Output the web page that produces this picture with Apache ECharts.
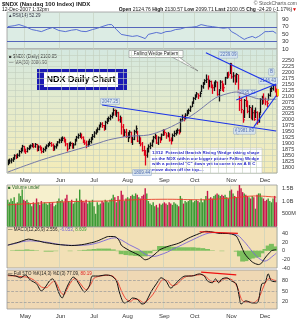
<!DOCTYPE html>
<html><head><meta charset="utf-8">
<script src="https://cdn.jsdelivr.net/npm/echarts@6/dist/echarts.min.js"></script>
<style>html,body{margin:0;padding:0;background:#fff}#c{width:299px;height:320px}</style>
</head><body><div id="c"></div>
<script>
// ---- DATA ----
const holidays = ['2007-05-28','2007-07-04','2007-09-03','2007-11-22'];
const monthNames = ['Jan','Feb','Mar','Apr','May','Jun','Jul','Aug','Sep','Oct','Nov','Dec'];
const closes = [
1822,1826,1830,1834,1848,1845,1850,1866,1872,1888,1868,
1866,1878,1884,1890,1895,1888,1896,1872,1885,1882,1866,1874,1880,1890,1896,1900,1893,1876,1886,1894,1906,1914,
1918,1922,1916,1898,1876,1896,1900,1884,1894,1914,1926,1934,1938,1926,1910,1902,1894,1900,1908,1920,1930,
1944,1952,1960,1972,1982,1976,1962,1990,2000,2006,2014,2022,2040,2028,2030,2000,2002,1970,1940,1948,1930,
1936,1948,1906,1918,1950,1962,1910,1918,1898,1870,1860,1850,1872,1886,1892,1908,1926,1932,1902,1924,1914,1936,1950,
1946,1932,1940,1914,1910,1934,1942,1950,1956,1946,2000,2010,2004,2020,2030,2040,2054,2072,2091,
2100,2110,2102,2112,2140,2152,2166,2172,2142,2162,2148,2136,2150,2160,2108,2124,2160,2142,2136,2178,2196,2190,2239,
2182,2186,2166,2192,2118,2082,2044,2000,2082,2062,2036,2052,2012,2030,2002,2032,1990,2024,2086,2092,2086,
2076,2070,2104,2130,2132,2148,2124,2100.05];
const highs = [
1830,1834,1836,1840,1852,1852,1856,1870,1880,1892,1888,
1876,1882,1890,1894,1900,1898,1900,1896,1890,1890,1884,1880,1886,1894,1900,1906,1904,1898,1890,1898,1908,1918,
1924,1928,1926,1918,1900,1902,1906,1902,1900,1918,1930,1940,1944,1940,1928,1914,1910,1910,1918,1926,1938,
1950,1958,1966,1978,1988,1988,1976,1994,2006,2012,2020,2030,2047,2042,2040,2032,2016,2010,1980,1958,1960,
1946,1954,1948,1926,1956,1974,1952,1934,1924,1904,1888,1870,1880,1894,1902,1914,1930,1940,1934,1928,1926,1940,1958,
1958,1944,1946,1940,1924,1940,1952,1956,1962,1958,2004,2020,2016,2026,2040,2046,2058,2076,2094,
2106,2116,2110,2118,2146,2158,2170,2190,2186,2168,2164,2146,2160,2166,2160,2128,2166,2164,2152,2180,2200,2202,2239,
2236,2200,2190,2196,2190,2120,2090,2040,2086,2110,2080,2060,2050,2060,2040,2050,2034,2030,2090,2100,2110,
2092,2080,2110,2134,2140,2150,2150,2130.57];
const lows = [
1810,1816,1818,1824,1834,1836,1840,1846,1860,1868,1864,
1858,1864,1874,1880,1886,1882,1884,1868,1870,1872,1860,1862,1868,1878,1886,1892,1888,1870,1872,1880,1890,1902,
1904,1912,1906,1890,1868,1878,1890,1880,1880,1894,1910,1922,1926,1920,1904,1896,1882,1888,1896,1902,1916,
1926,1940,1948,1958,1970,1968,1956,1960,1984,1994,2000,2008,2020,2020,2014,1996,1990,1940,1930,1932,1926,
1908,1924,1904,1896,1916,1944,1908,1900,1890,1868,1850,1809,1842,1864,1878,1888,1906,1920,1900,1896,1904,1916,1934,
1936,1922,1928,1910,1898,1912,1930,1936,1944,1940,1950,1996,1996,2004,2018,2026,2036,2056,2070,
2086,2096,2090,2098,2120,2134,2150,2158,2130,2140,2136,2112,2124,2140,2104,2080,2130,2124,2120,2150,2176,2180,2196,
2176,2160,2150,2160,2116,2040,2030,1990,2010,2056,2030,2010,2004,2000,1998,2010,1982,1990,2030,2066,2070,
2064,2056,2084,2100,2120,2126,2118,2099.71];
const volumes = [
1.05,0.95,1.10,1.00,1.15,0.90,0.95,1.30,1.20,1.45,1.05,
1.00,1.05,0.95,0.90,0.80,0.95,0.90,1.10,0.95,0.85,1.00,0.90,0.95,0.90,0.85,0.95,0.90,0.95,0.80,0.85,1.00,1.10,
1.00,1.05,0.95,1.10,1.25,1.00,0.95,1.05,0.90,0.95,1.10,1.00,1.45,1.05,1.00,0.95,1.05,0.90,1.00,0.95,1.05,
0.80,0.50,0.95,0.85,0.90,1.00,0.95,1.05,1.00,0.95,1.05,1.10,1.25,1.15,0.95,1.20,1.05,1.40,1.25,1.00,1.10,
1.15,1.10,1.20,1.25,1.20,1.30,1.25,1.15,1.10,1.20,1.25,1.50,1.30,1.00,0.90,0.85,0.95,0.80,0.85,0.75,0.90,0.85,0.90,
0.95,0.90,0.85,0.95,0.90,0.85,0.95,0.90,0.85,0.80,1.20,1.10,0.90,1.00,0.95,1.00,1.05,1.05,0.95,
1.00,1.05,1.00,0.95,1.10,0.95,1.05,1.20,1.40,1.10,1.15,1.10,1.20,1.25,1.30,1.25,1.20,1.25,1.20,1.25,1.15,1.10,1.40,
1.45,1.30,1.20,1.15,1.40,1.70,1.50,1.35,1.30,1.25,1.20,1.15,1.10,1.20,1.15,0.70,1.25,1.30,1.30,1.15,1.10,
1.00,1.05,1.10,1.00,0.95,1.10,1.20,0.95];
// sparse indicator readings: [tradingDayIndex, value]
const ma50 = [[0,1779],[21,1830],[40,1868],[57,1902],[63,1915],[75,1930],[88,1936],[98,1958],[107,1987],[115,2018],[120,2042],[130,2093],[137,2110],[143,2118],[151,2101],[157,2089],[168,2087]];
const volMA = [[0,0.85],[20,0.92],[40,0.98],[60,1.0],[80,1.05],[100,1.07],[120,1.05],[140,1.12],[155,1.2],[168,1.15]];
const rsi = [[0,70.5],[4,73],[7,76],[11,70.5],[15,62.6],[18,60],[21,57],[25,64],[28,68],[32,60],[36,57],[40,61],[43,62.6],[46,58],[49,57],[53,62.6],[56,66],[59,70.5],[63,76],[65,76],[68,62.6],[71,49.5],[74,47],[78,44],[81,46],[84,41.6],[86,38],[88,49.5],[93,54.7],[96,52],[99,57],[102,58],[105,62.6],[108,64],[111,68],[115,69],[118,70.5],[121,76],[125,72],[128,70.5],[132,68],[135,66],[138,68],[140,57],[143,50],[145,44],[148,36],[150,40],[153,44],[155,40],[157,44],[159,50],[161,57],[163,57],[166,58],[168,52.29]];
const macd = [[0,13],[4,17],[7,20],[10,24],[13,27],[17,24],[20,22],[23,19],[26,17.5],[30,15],[36,13],[40,12],[44,13],[48,15],[51,17.5],[54,20],[57,24],[60,29],[63,33],[66,33],[68,31],[70,22],[71,13],[74,5],[78,-3],[82,-10],[84,-16],[86,-21],[88,-19],[90,-14],[93,-5],[95,2],[98,7],[101,11],[104,14],[107,17.5],[110,23],[113,29],[116,34],[120,40],[124,45],[127,44],[130,42],[133,40],[136,40],[140,39],[143,34],[144,28],[145,20],[146,12],[148,-5],[150,-15],[153,-26],[155,-30],[157,-32],[159,-28],[160,-22],[162,-12],[164,-4],[165,0],[167,2],[168,2.556]];
const macdSignal = [[0,13],[5,17],[9,21],[14,23],[18,22],[24,20],[30,16],[36,13],[44,12.5],[51,14],[57,19],[63,27],[67,30],[71,25],[76,14],[82,3],[86,-8],[88,-11],[92,-13],[95,-10],[100,-3],[104,5],[107,10],[112,19],[116,26],[120,33],[124,39],[128,42],[133,41],[137,40],[140,39],[143,37],[145,33],[147,25],[149,17],[152,3],[155,-10],[157,-17],[159,-22],[161,-24],[163,-21],[165,-15],[167,-9],[168,-6.053]];
const macdHist = [[0,0],[3,1],[6,2],[9,2],[12,3],[15,2],[18,1],[21,0],[24,-2],[27,-2],[30,-1],[33,0],[36,0],[39,-1],[42,0],[45,1],[48,2],[51,3],[54,4],[57,5],[60,5],[63,5],[66,3],[69,-1],[71,-8],[74,-10],[77,-11],[80,-12],[83,-13],[86,-13],[89,-6],[92,2],[95,11],[98,11],[101,10],[104,9],[107,8],[110,8],[113,8],[116,8],[119,7],[122,6],[125,4],[128,1],[131,0],[134,-1],[137,0],[140,0],[143,-2],[145,-13],[147,-25],[149,-24],[151,-20],[153,-18],[155,-16],[157,-15],[159,-6],[161,4],[163,12],[165,16],[167,10],[168,8.6]];
const stoK = [[0,96],[5,93],[8,88],[11,96],[14,82],[18,71],[21,51],[24,65],[26,79],[28,85],[30,71],[32,45],[34,31],[36,51],[38,71],[41,90],[43,82],[46,59],[48,48],[51,65],[53,93],[57,93],[61,96],[65,93],[68,79],[70,45],[73,17],[76,23],[78,31],[81,28],[84,14],[86,17],[90,51],[93,71],[96,88],[99,79],[102,59],[105,71],[108,85],[111,93],[115,93],[120,99],[123,93],[125,79],[128,74],[130,85],[132,74],[134,85],[137,88],[140,79],[143,71],[145,31],[146,14],[149,23],[153,17],[156,17],[159,71],[161,74],[163,99],[165,79],[168,77.09]];
const stoD = [[0,94],[5,93],[9,91],[12,90],[15,85],[18,76],[21,62],[24,60],[27,72],[29,80],[31,68],[33,48],[35,40],[37,55],[39,72],[42,86],[44,80],[47,62],[49,54],[52,70],[54,87],[58,93],[62,95],[66,92],[69,74],[71,52],[74,28],[77,22],[79,28],[82,26],[85,18],[87,22],[91,42],[94,65],[97,82],[100,80],[103,66],[106,70],[109,84],[112,92],[116,94],[121,97],[124,92],[126,82],[129,77],[131,80],[133,78],[135,84],[138,86],[141,80],[144,58],[146,30],[148,20],[151,20],[154,18],[157,30],[160,62],[162,80],[164,86],[166,82],[168,80.19]];
// trend lines [idx, price]
const fallingLower = [[59,2063],[168,1953]];
const fallingUpper = [[124,2284],[168,2143]];
const risingUpper = [[143,2084],[168,2152]];
const risingLower = [[154,1970],[168,2102]];
const annText  = ['2047.25','1809.44','2239.09','A','1981.89','2035.32','2146.43','B'];
const annIdx   = [64,84,138,143,149,150,163,165];
const annPrice = [2078,1777,2275,1953,1953,2114,2165,2203];

// ---- BUILD ----
function buildDates(){
  const out=[]; let t=Date.UTC(2007,3,16); const end=Date.UTC(2007,11,12);
  while(t<=end){const d=new Date(t);const wd=d.getUTCDay();const s=d.toISOString().slice(0,10);
    if(wd>0&&wd<6&&holidays.indexOf(s)<0) out.push(s); t+=86400000;}
  return out;
}
const dates = buildDates();
const isMonthStart = i => i>0 && dates[i].slice(5,7)!==dates[i-1].slice(5,7);
const isMonday = i => new Date(dates[i]+'T00:00:00Z').getUTCDay()===1;
const up = closes.map((c,i)=> i===0 ? true : c>=closes[i-1]);
const FONT = 'Liberation Sans';
const L = 7, R = 22;
const grids = [
  {left:L,right:R,top:12,height:37,backgroundColor:'#dcece4'},
  {left:L,right:R,top:49,height:124,backgroundColor:new echarts.graphic.LinearGradient(0,0,0,1,[{offset:0,color:'#d4e8e0'},{offset:0.5,color:'#e6ebca'},{offset:1,color:'#f4ecb8'}])},
  {left:L,right:R,top:185,height:41.5,backgroundColor:'#f6f0cd'},
  {left:L,right:R,top:227,height:41,backgroundColor:'#f2e0b6'},
  {left:L,right:R,top:270,height:39,backgroundColor:'#efd8b4'}
].map(g=>Object.assign({show:true,borderColor:'#9a9a9a',borderWidth:0.8},g));

function xAx(gi, showLabels, vSplit){
  return {type:'category',gridIndex:gi,data:dates,boundaryGap:true,
    axisLine:{show:false},axisTick:{show:false},
    axisLabel:{show:showLabels,interval:(i)=>isMonthStart(i),formatter:v=>monthNames[+v.slice(5,7)-1],
      fontSize:6,color:'#333',margin:4,fontFamily:FONT},
    splitLine:{show:true,interval:vSplit,lineStyle:{color:'#c3cfbd',width:0.6}}};
}
function yAx(gi,opt){
  return Object.assign({type:'value',gridIndex:gi,position:'right',scale:false,
    axisLine:{show:false},axisTick:{show:false},
    axisLabel:{fontSize:6,color:'#333',margin:5,fontFamily:FONT},
    splitLine:{show:false}},opt);
}
const xAxes=[xAx(0,false,(i)=>isMonthStart(i)), xAx(1,true,(i)=>isMonday(i)), xAx(2,false,(i)=>isMonthStart(i)), xAx(3,false,(i)=>isMonthStart(i)), xAx(4,true,(i)=>isMonthStart(i))];
const yAxes=[
  yAx(0,{min:10,max:110,interval:20,axisLabel:{fontSize:6,color:'#333',margin:5,fontFamily:FONT,formatter:v=>(v>=10&&v<=90)?String(v):''}}),
  yAx(1,{min:1775,max:2300,interval:25,axisLabel:{fontSize:5.5,color:'#333',margin:5,fontFamily:FONT,formatter:v=>(v>=1800&&v<=2250)?String(v):''},
    splitLine:{show:true,lineStyle:{color:'#c3cfbd',width:0.6}}}),
  yAx(2,{min:0,max:1.63,interval:0.5,axisLabel:{fontSize:5.5,color:'#333',margin:5,fontFamily:FONT,formatter:v=>v===0.5?'500M':v===1?'1.0B':v===1.5?'1.5B':''}}),
  yAx(3,{min:-40,max:55,interval:20,axisLabel:{fontSize:5.5,color:'#333',margin:5,fontFamily:FONT,formatter:v=>(v<=40)?String(v):''}}),
  yAx(4,{min:0,max:110,interval:10,axisLabel:{fontSize:5.5,color:'#333',margin:5,fontFamily:FONT,formatter:v=>(v===20||v===50||v===80)?String(v):''}})
];

const ohlcData = closes.map((c,i)=>[i,c,lows[i],highs[i],up[i]?1:0]);
const lastIdx = closes.length-1;
function renderBar(params, api){
  const i=api.value(0);
  const lo=api.coord([i,api.value(2)]), hi=api.coord([i,api.value(3)]), cl=api.coord([i,api.value(1)]);
  const x=Math.round(lo[0])+0.5;
  let color = api.value(4)? '#111':'#e2001a';
  const ch=[{type:'line',shape:{x1:x,y1:lo[1]+0.5,x2:x,y2:hi[1]-0.5},style:{stroke:color,lineWidth:1.3}},
            {type:'line',shape:{x1:x,y1:cl[1],x2:x+1.4,y2:cl[1]},style:{stroke:color,lineWidth:1}}];
  if(i===lastIdx){ch.unshift({type:'rect',shape:{x:x+0.5,y:hi[1],width:2,height:lo[1]-hi[1]},style:{fill:'#f0e020'}});}
  return {type:'group',children:ch};
}
const lineStyleBlue = {color:'#1c34e8',width:1.1,type:'solid'};
function tl(a){return [{coord:a[0]},{coord:a[1]}];}

const series = [
  {type:'line',xAxisIndex:0,yAxisIndex:0,data:rsi,showSymbol:false,lineStyle:{color:'#4a62d0',width:0.9},silent:true,
   markLine:{silent:true,symbol:'none',label:{show:false},lineStyle:{color:'#5566bb',width:1,type:'solid'},data:[{yAxis:70},{yAxis:30}]}},
  {type:'custom',xAxisIndex:1,yAxisIndex:1,data:ohlcData,renderItem:renderBar,encode:{x:0,y:[1,2,3]},silent:true},
  {type:'line',xAxisIndex:1,yAxisIndex:1,data:ma50,showSymbol:false,smooth:0.3,lineStyle:{color:'#7478a8',width:1},silent:true,
   markLine:{silent:true,symbol:'none',label:{show:false},lineStyle:lineStyleBlue,
     data:[tl(fallingLower),tl(fallingUpper),tl(risingUpper),tl(risingLower)]}},
  {type:'scatter',xAxisIndex:1,yAxisIndex:1,symbolSize:0.1,silent:true,
   data:annText.map((t,k)=>({value:[annIdx[k],annPrice[k]],name:t})),
   label:{show:true,position:'inside',formatter:p=>p.name,fontSize:4.5,color:'#3050a8',fontFamily:FONT,
     backgroundColor:'#d8e6f4',borderColor:'#8aa0c8',borderWidth:0.5,padding:[1,1,0,1]}},
  {type:'bar',xAxisIndex:2,yAxisIndex:2,data:volumes.map((v,i)=>({value:v,itemStyle:{color:up[i]?'#3c9a34':'#c8154a'}})),barWidth:1.4,silent:true},
  {type:'line',xAxisIndex:2,yAxisIndex:2,data:volMA,showSymbol:false,smooth:0.4,lineStyle:{color:'#e8402a',width:0.9},silent:true},
  {type:'bar',xAxisIndex:3,yAxisIndex:3,data:macdHist,barWidth:5,itemStyle:{color:'#7cbf5e'},silent:true},
  {type:'line',xAxisIndex:3,yAxisIndex:3,data:macdSignal,showSymbol:false,smooth:0.3,lineStyle:{color:'#7a66d8',width:0.9},silent:true},
  {type:'line',xAxisIndex:3,yAxisIndex:3,data:macd,showSymbol:false,smooth:0.3,lineStyle:{color:'#111',width:1},silent:true,
   markLine:{silent:true,symbol:'none',label:{show:false},lineStyle:{color:'#ee1111',width:1.2,type:'solid'},data:[[{coord:[120,44]},{coord:[144,40]}]]}},
  {type:'line',xAxisIndex:4,yAxisIndex:4,data:stoD,showSymbol:false,smooth:0.3,lineStyle:{color:'#f04a3a',width:1},silent:true,
   markLine:{silent:true,symbol:'none',label:{show:false},lineStyle:{color:'#999',width:0.7,type:'dashed'},data:[{yAxis:80},{yAxis:50},{yAxis:20}]}},
  {type:'line',xAxisIndex:4,yAxisIndex:4,data:stoK,showSymbol:false,smooth:0.3,lineStyle:{color:'#111',width:1},silent:true,
   markLine:{silent:true,symbol:'none',label:{show:false},lineStyle:{color:'#ee1111',width:1.2,type:'solid'},data:[[{coord:[121,104]},{coord:[143,96]}]]}}
];

const T = (x,y,text,extra)=>({type:'text',x:x,y:y,silent:true,style:Object.assign({text:text,fontSize:5,fill:'#222',fontFamily:FONT},extra||{})});
const graphic = [
  T(2,1,'$NDX (Nasdaq 100 Index) INDX',{fontSize:6,fontWeight:'bold'}),
  T(297,1,'© StockCharts.com',{fontSize:5,align:'right',fill:'#555'}),
  T(2,7.5,'12-Dec-2007 1:32pm',{fontSize:5}),
  {type:'text',x:297,y:7.5,silent:true,style:{align:'right',fontFamily:FONT,fontSize:5,fill:'#222',
    text:'{b|Open} 2124.76 {b|High} 2130.57 {b|Low} 2099.71 {b|Last} 2100.05 {b|Chg} -24.20 (-1.17%){r|▼}',
    rich:{b:{fontWeight:'bold',fontSize:5,fontFamily:FONT},r:{fill:'#d00',fontSize:5}}}},
  T(8,13.5,'▲RSI(14) 52.29',{fontSize:4.5,fill:'#334'}),
  T(9,54.5,'■ $NDX (Daily) 2100.05',{fontSize:4.5,fill:'#333'}),
  T(9,60.5,'— MA(50) 2086.90',{fontSize:4.5,fill:'#555'}),
  {type:'rect',shape:{x:37,y:69,width:90,height:21},style:{fill:'#1a1ab4'},silent:true},
  {type:'rect',shape:{x:44,y:72,width:74,height:15},style:{fill:'#fff'},silent:true},
  T(81,79.5,'NDX Daily Chart',{fontSize:9,fontWeight:'bold',align:'center',verticalAlign:'middle',fill:'#000'}),
  {type:'polygon',shape:{points:[[172,57],[179,57],[198,71]]},style:{fill:'#fff',stroke:'#555',lineWidth:0.5},silent:true},
  {type:'rect',shape:{x:129,y:50.5,width:54,height:7},style:{fill:'#fff',stroke:'#777',lineWidth:0.5},silent:true},
  T(156,54,'Falling Wedge Pattern',{fontSize:4.5,align:'center',verticalAlign:'middle',fill:'#222'}),
  {type:'rect',shape:{x:150,y:148,width:112,height:25},style:{fill:'#fff',stroke:'#bbb',lineWidth:0.5},silent:true},
  T(152,149.5,'12/12  Potential Bearish Rising Wedge taking shape\non the NDX within our bigger picture Falling Wedge\nwith a potential "C" down yet to come in an A B C\nmove down off the top....',
    {fontSize:4.4,lineHeight:5.9,fill:'#2424c8',fontWeight:'bold'}),
  T(8,185.5,'■ Volume undef',{fontSize:4.5,fill:'#2a6a2a'}),
  {type:'text',x:8,y:227.5,silent:true,style:{fontFamily:FONT,fontSize:4.5,fill:'#222',
    text:'— MACD(12,26,9) 2.556, {p|-6.053}, {g|8.609}',rich:{p:{fill:'#6a5ad0',fontSize:4.5},g:{fill:'#3a9a34',fontSize:4.5}}}},
  {type:'text',x:8,y:271,silent:true,style:{fontFamily:FONT,fontSize:4.5,fill:'#222',
    text:'— Full STO %K(14,3) %D(3) 77.09, {r|80.19}',rich:{r:{fill:'#e02020',fontSize:4.5}}}}
];

const chart = echarts.init(document.getElementById('c'),null,{renderer:'canvas'});
chart.setOption({animation:false,backgroundColor:'#fff',grid:grids,xAxis:xAxes,yAxis:yAxes,series:series,graphic:graphic});
</script></body></html>
